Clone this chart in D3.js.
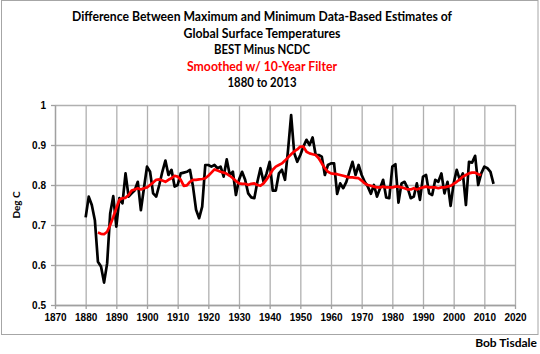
<!DOCTYPE html>
<html>
<head>
<meta charset="utf-8">
<script src="https://cdn.jsdelivr.net/npm/d3@7"></script>
<style>
  body { margin: 0; background: #fff; }
  svg { display: block; font-family: Lato, "Open Sans", sans-serif; }
  .grid line { stroke: #b0b0b0; stroke-width: 1.3px; }
  .grid .domain { display: none; }
  .axis text { font-size: 10px; font-weight: bold; fill: #000; }
  .axis line, .axis path { stroke: #a0a0a0; stroke-width: 1.3px; }
</style>
</head>
<body>
<svg id="chart" width="540" height="354"></svg>
<script>
// annual values, 1880 to 2013 (Deg C)
var startYear = 1880;
var annualDiff = [
  0.719, 0.771, 0.750, 0.712, 0.608, 0.596, 0.556, 0.604, 0.729, 0.772,
  0.696, 0.767, 0.754, 0.829, 0.771, 0.779, 0.787, 0.808, 0.737, 0.792,
  0.846, 0.833, 0.779, 0.771, 0.800, 0.833, 0.861, 0.825, 0.838, 0.796,
  0.800, 0.829, 0.831, 0.833, 0.838, 0.796, 0.738, 0.717, 0.746, 0.850,
  0.850, 0.846, 0.850, 0.842, 0.846, 0.821, 0.864, 0.825, 0.833, 0.775,
  0.813, 0.833, 0.813, 0.779, 0.769, 0.767, 0.808, 0.842, 0.808, 0.829,
  0.858, 0.786, 0.786, 0.829, 0.838, 0.813, 0.888, 0.975, 0.880, 0.858,
  0.875, 0.896, 0.913, 0.900, 0.919, 0.875, 0.875, 0.871, 0.825, 0.850,
  0.854, 0.854, 0.778, 0.804, 0.792, 0.808, 0.833, 0.858, 0.825, 0.850,
  0.825, 0.808, 0.796, 0.778, 0.800, 0.771, 0.792, 0.813, 0.769, 0.767,
  0.846, 0.852, 0.756, 0.804, 0.808, 0.792, 0.767, 0.771, 0.804, 0.763,
  0.821, 0.825, 0.779, 0.775, 0.813, 0.808, 0.829, 0.779, 0.808, 0.748,
  0.804, 0.838, 0.813, 0.829, 0.750, 0.858, 0.856, 0.873, 0.800, 0.829,
  0.846, 0.842, 0.833, 0.803
];

// 10-year filter, 1884 to 2009
var smoothStart = 1884;
var smoothed = [
  0.681, 0.678, 0.677, 0.683, 0.700, 0.720, 0.742, 0.763, 0.767, 0.768,
  0.775, 0.786, 0.789, 0.792, 0.789, 0.792, 0.794, 0.800, 0.806, 0.813,
  0.814, 0.811, 0.808, 0.813, 0.817, 0.823, 0.821, 0.813, 0.798, 0.799,
  0.808, 0.813, 0.813, 0.814, 0.815, 0.817, 0.823, 0.831, 0.839, 0.836,
  0.833, 0.831, 0.828, 0.823, 0.817, 0.810, 0.804, 0.803, 0.803, 0.800,
  0.803, 0.804, 0.800, 0.798, 0.804, 0.814, 0.825, 0.838, 0.846, 0.850,
  0.854, 0.861, 0.869, 0.877, 0.884, 0.889, 0.896, 0.896, 0.883, 0.879,
  0.877, 0.875, 0.867, 0.854, 0.842, 0.833, 0.829, 0.828, 0.827, 0.825,
  0.823, 0.821, 0.819, 0.819, 0.818, 0.817, 0.811, 0.804, 0.800, 0.798,
  0.796, 0.794, 0.794, 0.796, 0.794, 0.794, 0.794, 0.796, 0.796, 0.794,
  0.792, 0.789, 0.789, 0.792, 0.789, 0.792, 0.794, 0.796, 0.794, 0.794,
  0.794, 0.792, 0.794, 0.794, 0.796, 0.798, 0.803, 0.808, 0.814, 0.821,
  0.825, 0.829, 0.831, 0.831, 0.827, 0.825
];

var xTicks = d3.range(1870, 2021, 10);
var yTicks = [0.5, 0.6, 0.7, 0.8, 0.9, 1];

var titleLines = [
  { text: "Difference Between Maximum and Minimum Data-Based Estimates of", color: "#000", len: 380 },
  { text: "Global Surface Temperatures", color: "#000", len: 157 },
  { text: "BEST Minus NCDC", color: "#000", len: 96 },
  { text: "Smoothed w/ 10-Year Filter", color: "#ff0000", len: 150 },
  { text: "1880 to 2013", color: "#000", len: 69 }
];

var margin = { top: 105, right: 25, bottom: 49, left: 55 },
  width = 540 - margin.left - margin.right,
  height = 354 - margin.top - margin.bottom;

var svg = d3.select("#chart");

// outer frame
svg.append("rect")
  .attr("x", 1.5).attr("y", 0.5)
  .attr("width", 536.5).attr("height", 334)
  .attr("fill", "none")
  .attr("stroke", "#a6a6a6")
  .attr("stroke-width", 1);

// titles
svg.selectAll(".title")
  .data(titleLines)
  .enter().append("text")
  .attr("class", "title")
  .attr("x", 262)
  .attr("y", function (d, i) { return 21 + i * 16.6; })
  .attr("text-anchor", "middle")
  .attr("font-size", "12.5px")
  .attr("font-weight", "bold")
  .attr("fill", function (d) { return d.color; })
  .attr("textLength", function (d) { return d.len; })
  .attr("lengthAdjust", "spacingAndGlyphs")
  .text(function (d) { return d.text; });

var g = svg.append("g")
  .attr("transform", "translate(" + margin.left + "," + margin.top + ")");

var x = d3.scaleLinear().domain([1870, 2020]).range([0, width]);
var y = d3.scaleLinear().domain([0.5, 1]).range([height, 0]);

// gridlines
g.append("g")
  .attr("class", "grid")
  .call(d3.axisLeft(y).tickValues(yTicks).tickSize(-width).tickFormat(""));
g.append("g")
  .attr("class", "grid")
  .attr("transform", "translate(0," + height + ")")
  .call(d3.axisBottom(x).tickValues(xTicks).tickSize(-height).tickFormat(""));

// axes
g.append("g")
  .attr("class", "axis")
  .call(d3.axisLeft(y).tickValues(yTicks).tickSize(4).tickSizeOuter(0).tickPadding(5)
    .tickFormat(function (d) { return d === 1 ? "1" : d3.format(".1f")(d); }));
g.append("g")
  .attr("class", "axis")
  .attr("transform", "translate(0," + height + ")")
  .call(d3.axisBottom(x).tickValues(xTicks).tickSize(4).tickSizeOuter(0).tickPadding(5)
    .tickFormat(d3.format("d")));

g.append("text")
  .attr("transform", "rotate(-90)")
  .attr("x", -100)
  .attr("y", -35)
  .attr("text-anchor", "middle")
  .attr("font-size", "10px")
  .attr("font-weight", "bold")
  .text("Deg C");

var line = d3.line()
  .x(function (d) { return x(d.year); })
  .y(function (d) { return y(d.value); });

var annualData = annualDiff.map(function (v, i) { return { year: startYear + i, value: v }; });
var smoothData = smoothed.map(function (v, i) { return { year: smoothStart + i, value: v }; });

g.append("path")
  .datum(annualData)
  .attr("fill", "none")
  .attr("stroke", "#000")
  .attr("stroke-width", 2.7)
  .attr("stroke-linejoin", "round")
  .attr("d", line);

g.append("path")
  .datum(smoothData)
  .attr("fill", "none")
  .attr("stroke", "#ff0000")
  .attr("stroke-width", 2.7)
  .attr("stroke-linejoin", "round")
  .attr("d", line);

svg.append("text")
  .attr("x", 537)
  .attr("y", 347)
  .attr("text-anchor", "end")
  .attr("font-size", "12px")
  .attr("font-weight", "bold")
  .text("Bob Tisdale");
</script>
</body>
</html>
